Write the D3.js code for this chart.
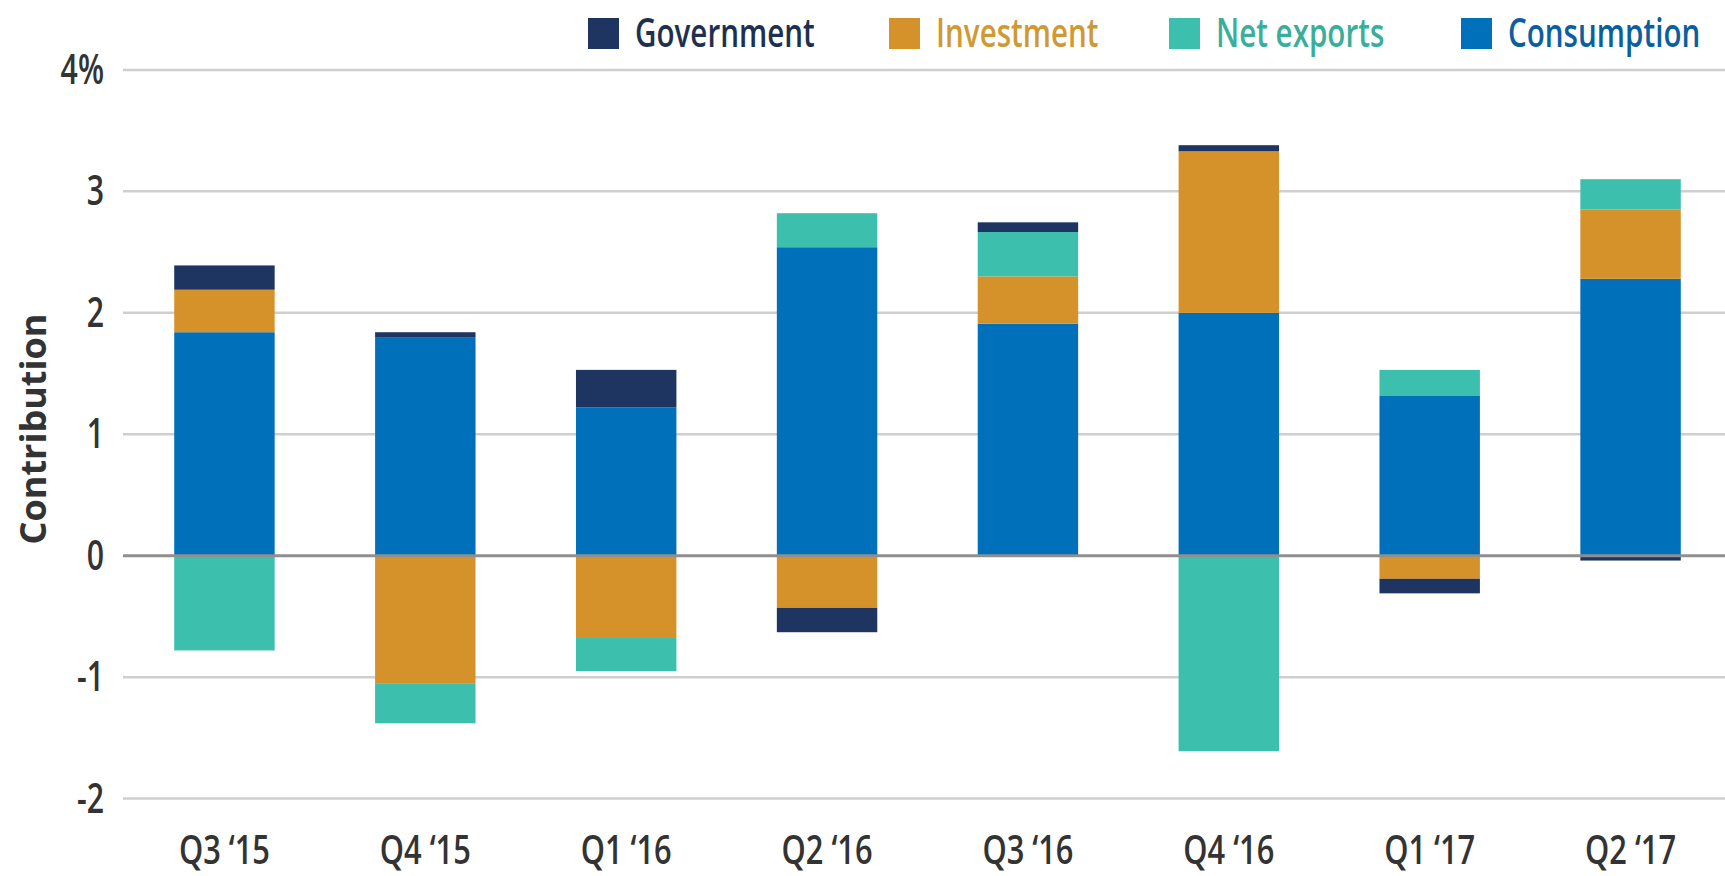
<!DOCTYPE html>
<html>
<head>
<meta charset="utf-8">
<script src="https://cdn.jsdelivr.net/npm/d3@7"></script>
<style>
  html, body { margin: 0; padding: 0; background: #fff; }
  svg { display: block; }
</style>
</head>
<body>
<svg id="chart" width="1725" height="876"></svg>
<script>
const categories = ["Q3 \u201815", "Q4 \u201815", "Q1 \u201816", "Q2 \u201816", "Q3 \u201816", "Q4 \u201816", "Q1 \u201817", "Q2 \u201817"];
const consumption = [1.84, 1.80, 1.22, 2.54, 1.91, 2.00, 1.32, 2.28];
const investment  = [0.35, -1.05, -0.67, -0.43, 0.39, 1.33, -0.19, 0.57];
const netExports  = [-0.78, -0.33, -0.28, 0.28, 0.365, -1.61, 0.21, 0.25];
const government  = [0.20, 0.04, 0.31, -0.20, 0.08, 0.05, -0.12, -0.04];
const yTicks = [-2, -1, 0, 1, 2, 3, 4];
const seriesNames = ["Consumption", "Investment", "Net exports", "Government"];
const legendOrder = ["Government", "Investment", "Net exports", "Consumption"];

const colors = {
  "Consumption": "#0070ba",
  "Investment": "#d5922b",
  "Net exports": "#3cbfac",
  "Government": "#1e3561"
};
const textColors = {
  "Consumption": "#0b5f9e",
  "Investment": "#cf9a34",
  "Net exports": "#3aae9c",
  "Government": "#1e3050"
};

const rows = categories.map((c, i) => ({
  cat: c,
  "Consumption": consumption[i],
  "Investment": investment[i],
  "Net exports": netExports[i],
  "Government": government[i]
}));

const svg = d3.select("#chart");
const W = 1725;
const font = "'Open Sans', 'Noto Sans', sans-serif";

const x = d3.scaleBand().domain(categories).range([124, 1731]).paddingInner(0.5).paddingOuter(0.25);
const y = d3.scaleLinear().domain([-2, 4]).range([798.6, 69.9]);

// gridlines
svg.append("g").selectAll("line").data(yTicks.filter(d => d !== 0)).join("line")
  .attr("x1", 123).attr("x2", W)
  .attr("y1", d => y(d)).attr("y2", d => y(d))
  .attr("stroke", "#cfcfcf").attr("stroke-width", 2.5);

// y tick labels (condensed by horizontal scaling)
svg.append("g").selectAll("text").data(yTicks).join("text")
  .attr("transform", d => `translate(104,${y(d) + 14}) scale(0.72,1)`)
  .attr("text-anchor", "end")
  .attr("font-family", font).attr("font-size", 42).attr("font-weight", 600)
  .attr("fill", "#333")
  .text(d => d === 4 ? "4%" : String(d));

// stacked bars
const stack = d3.stack().keys(seriesNames).offset(d3.stackOffsetDiverging);
const stacked = stack(rows);

svg.append("g").selectAll("g").data(stacked).join("g")
  .attr("fill", d => colors[d.key])
  .selectAll("rect").data(d => d).join("rect")
  .attr("x", d => x(d.data.cat))
  .attr("width", x.bandwidth())
  .attr("y", d => y(Math.max(d[0], d[1])))
  .attr("height", d => Math.abs(y(d[0]) - y(d[1])));

// zero line
svg.append("line")
  .attr("x1", 123).attr("x2", W)
  .attr("y1", y(0)).attr("y2", y(0))
  .attr("stroke", "#8f8f8f").attr("stroke-width", 3);

// x labels
svg.append("g").selectAll("text").data(categories).join("text")
  .attr("transform", d => `translate(${x(d) + x.bandwidth() / 2},864) scale(0.77,1)`)
  .attr("text-anchor", "middle")
  .attr("font-family", font).attr("font-size", 40).attr("font-weight", 600)
  .attr("fill", "#333")
  .text(d => d);

// y axis title
svg.append("text")
  .attr("transform", "translate(46,429) rotate(-90)")
  .attr("text-anchor", "middle")
  .attr("font-family", font)
  .attr("font-weight", "bold")
  .attr("font-size", 36)
  .attr("fill", "#333")
  .text("Contribution");

// legend
const legendX = [588, 889, 1169, 1461];
const lg = svg.append("g").selectAll("g").data(legendOrder).join("g")
  .attr("transform", (d, i) => `translate(${legendX[i]},18)`);
lg.append("rect").attr("width", 31).attr("height", 31).attr("fill", d => colors[d]);
lg.append("text")
  .attr("transform", "translate(47,29) scale(0.74,1)")
  .attr("font-family", font).attr("font-size", 40).attr("font-weight", 600)
  .attr("fill", d => textColors[d])
  .text(d => d);
</script>
</body>
</html>
